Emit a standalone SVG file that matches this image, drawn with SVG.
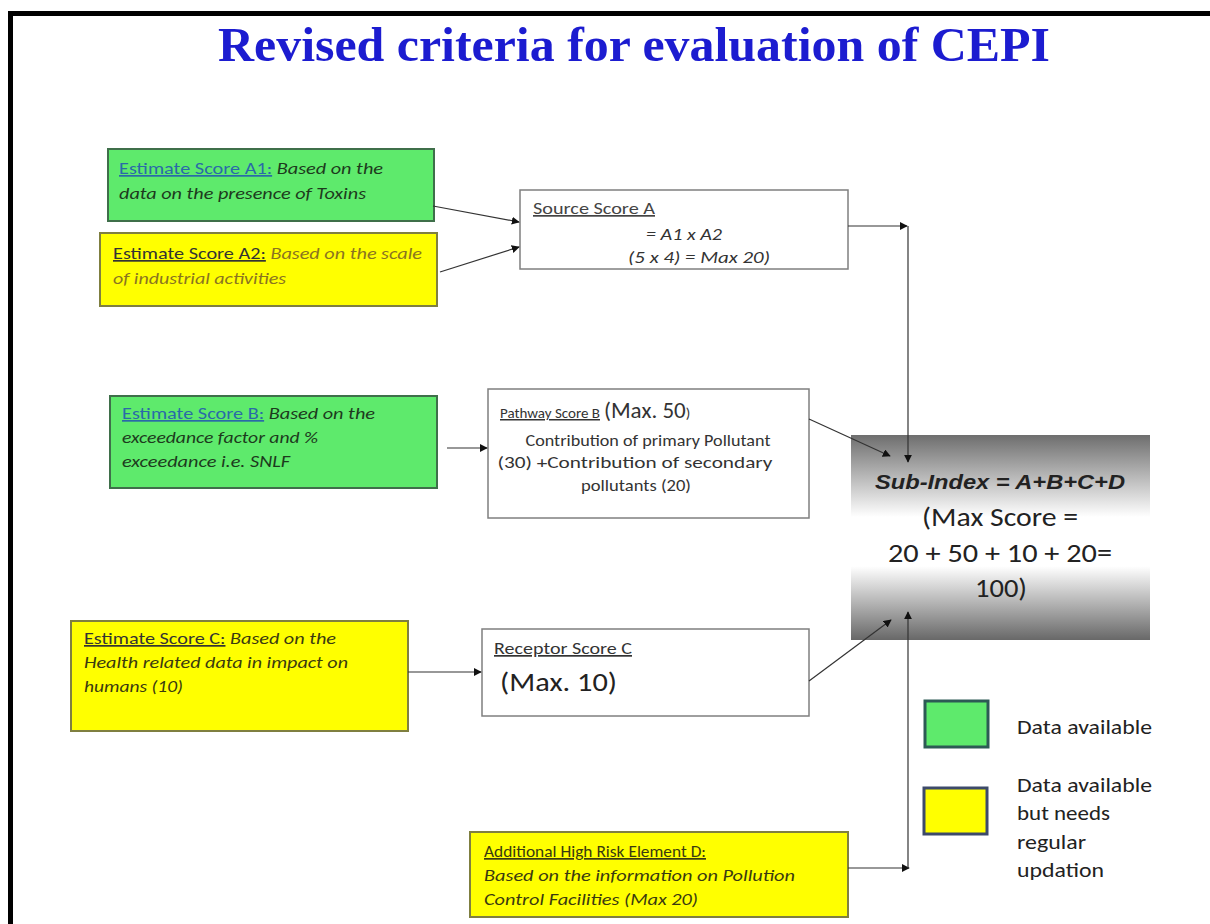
<svg xmlns="http://www.w3.org/2000/svg" width="1210" height="924" viewBox="0 0 1210 924">
<style>
.t{font-family:Carlito,"Liberation Sans",Arial,sans-serif;font-size:17px;fill:#222}
.i{font-style:italic}
.u{text-decoration:underline}
.g{fill:#5eea6c;stroke:#3f6f4a;stroke-width:2}
.y{fill:#ffff00;stroke:#7f7f40;stroke-width:2}
.w{fill:#ffffff;stroke:#7f7f7f;stroke-width:1.5}
.c{fill:none;stroke:#333;stroke-width:1.2}
.lg{font-family:Carlito,"Liberation Sans",Arial,sans-serif;font-size:21px;fill:#222}
.big{font-family:Carlito,"Liberation Sans",Arial,sans-serif;font-size:26px;fill:#222}
</style>
<defs>
<marker id="ah" viewBox="0 0 10 10" refX="9" refY="5" markerWidth="8" markerHeight="8" orient="auto" markerUnits="userSpaceOnUse">
<path d="M0,0 L10,5 L0,10 z" fill="#111"/>
</marker>
<linearGradient id="sg" x1="0" y1="0" x2="0" y2="1">
<stop offset="0" stop-color="#6e6e6e"/>
<stop offset="0.4" stop-color="#ffffff"/>
<stop offset="0.64" stop-color="#ffffff"/>
<stop offset="1" stop-color="#686868"/>
</linearGradient>
</defs>
<rect width="1210" height="924" fill="#ffffff"/>
<path d="M10.5,924 V13.5 H1210" fill="none" stroke="#000" stroke-width="5"/>
<text x="634" y="61" text-anchor="middle" font-family="'Liberation Serif','Times New Roman',serif" font-weight="bold" font-size="48" fill="#1c1cd0" textLength="832" lengthAdjust="spacingAndGlyphs">Revised criteria for evaluation of CEPI</text>

<g id="a1">
<rect class="g" x="108" y="149" width="326" height="72"/>
<text class="t" x="119" y="174" textLength="264" lengthAdjust="spacingAndGlyphs"><tspan class="u" fill="#2a6aa8">Estimate Score A1:</tspan><tspan class="i" fill="#1d3a1d"> Based on the</tspan></text>
<text class="t i" x="119" y="199" style="fill:#1d3a1d" textLength="247" lengthAdjust="spacingAndGlyphs">data on the presence of Toxins</text>
</g>

<g id="a2">
<rect class="y" x="100" y="233" width="337" height="73"/>
<text class="t" x="113" y="259" textLength="309" lengthAdjust="spacingAndGlyphs"><tspan class="u" fill="#333">Estimate Score A2:</tspan><tspan class="i" fill="#8a7420"> Based on the scale</tspan></text>
<text class="t i" x="113" y="284" style="fill:#8a7420" textLength="173" lengthAdjust="spacingAndGlyphs">of industrial activities</text>
</g>

<g id="sourceA">
<rect class="w" x="520" y="190" width="328" height="79"/>
<text class="t u" x="533" y="214" style="fill:#444" textLength="122" lengthAdjust="spacingAndGlyphs">Source Score A</text>
<text class="t i" x="684" y="240" text-anchor="middle" style="fill:#333" textLength="76" lengthAdjust="spacingAndGlyphs">= A1 x A2</text>
<text class="t i" x="699" y="263" text-anchor="middle" style="fill:#333" textLength="142" lengthAdjust="spacingAndGlyphs">(5 x 4) = Max 20)</text>
</g>

<g id="b">
<rect class="g" x="110" y="396" width="327" height="92"/>
<text class="t" x="122" y="419" textLength="253" lengthAdjust="spacingAndGlyphs"><tspan class="u" fill="#2a6aa8">Estimate Score B:</tspan><tspan class="i" fill="#1d3a1d"> Based on the</tspan></text>
<text class="t i" x="122" y="443" style="fill:#1d3a1d" textLength="196" lengthAdjust="spacingAndGlyphs">exceedance factor and %</text>
<text class="t i" x="122" y="467" style="fill:#1d3a1d" textLength="168" lengthAdjust="spacingAndGlyphs">exceedance i.e. SNLF</text>
</g>

<g id="pathwayB">
<rect class="w" x="488" y="389" width="321" height="129"/>
<text class="t" x="500" y="418" style="fill:#333"><tspan class="u" font-size="15">Pathway Score B</tspan><tspan font-size="23" dx="4">(Max. 50</tspan><tspan font-size="15">)</tspan></text>
<text class="t" x="648" y="446" text-anchor="middle" style="fill:#333" textLength="245" lengthAdjust="spacingAndGlyphs">Contribution of primary  Pollutant</text>
<text class="t" x="635" y="468" text-anchor="middle" style="fill:#333" textLength="275" lengthAdjust="spacingAndGlyphs">(30) +Contribution of secondary</text>
<text class="t" x="636" y="491" text-anchor="middle" style="fill:#333" textLength="110" lengthAdjust="spacingAndGlyphs">pollutants (20)</text>
</g>

<g id="subindex">
<rect x="851" y="435" width="299" height="205" fill="url(#sg)"/>
<text x="1000" y="489" text-anchor="middle" font-family="'Liberation Sans',Arial,sans-serif" font-weight="bold" font-style="italic" font-size="21" fill="#222" textLength="250" lengthAdjust="spacingAndGlyphs">Sub-Index = A+B+C+D</text>
<text class="big" x="1000" y="526" text-anchor="middle" textLength="156" lengthAdjust="spacingAndGlyphs">(Max Score =</text>
<text class="big" x="1000" y="562" text-anchor="middle" textLength="224" lengthAdjust="spacingAndGlyphs">20 + 50 + 10 + 20=</text>
<text class="big" x="1001" y="597" text-anchor="middle" textLength="52" lengthAdjust="spacingAndGlyphs">100)</text>
</g>

<g id="c">
<rect class="y" x="71" y="621" width="337" height="110"/>
<text class="t" x="84" y="644" textLength="252" lengthAdjust="spacingAndGlyphs"><tspan class="u" fill="#333">Estimate Score C:</tspan><tspan class="i" fill="#3a3a10"> Based on the</tspan></text>
<text class="t i" x="84" y="668" style="fill:#3a3a10" textLength="264" lengthAdjust="spacingAndGlyphs">Health related data in impact on</text>
<text class="t i" x="84" y="692" style="fill:#3a3a10" textLength="99" lengthAdjust="spacingAndGlyphs">humans (10)</text>
</g>

<g id="receptorC">
<rect class="w" x="482" y="629" width="327" height="87"/>
<text class="t u" x="494" y="654" style="fill:#333" font-size="15" textLength="138" lengthAdjust="spacingAndGlyphs">Receptor Score C</text>
<text class="big" x="500" y="691" textLength="117" lengthAdjust="spacingAndGlyphs">(Max. 10)</text>
</g>

<g id="d">
<rect class="y" x="470" y="832" width="378" height="85"/>
<text class="t u" x="484" y="857" style="fill:#3a3a10" textLength="222" lengthAdjust="spacingAndGlyphs">Additional High Risk Element D:</text>
<text class="t i" x="484" y="881" style="fill:#3a3a10" textLength="311" lengthAdjust="spacingAndGlyphs">Based on the information on Pollution</text>
<text class="t i" x="484" y="905" style="fill:#3a3a10" textLength="214" lengthAdjust="spacingAndGlyphs">Control Facilities (Max 20)</text>
</g>

<g id="legend">
<rect x="925" y="701" width="63" height="46" fill="#5eea6c" stroke="#2d5a55" stroke-width="3"/>
<text class="lg" x="1017" y="734" textLength="135" lengthAdjust="spacingAndGlyphs">Data available</text>
<rect x="924" y="788" width="63" height="46" fill="#ffff00" stroke="#3d4a6a" stroke-width="3"/>
<text class="lg" x="1017" y="792" textLength="135" lengthAdjust="spacingAndGlyphs">Data available</text>
<text class="lg" x="1017" y="820" textLength="93" lengthAdjust="spacingAndGlyphs">but needs</text>
<text class="lg" x="1017" y="849" textLength="69" lengthAdjust="spacingAndGlyphs">regular</text>
<text class="lg" x="1017" y="877" textLength="87" lengthAdjust="spacingAndGlyphs">updation</text>
</g>

<g id="connectors">
<line class="c" x1="433" y1="206" x2="519" y2="222" marker-end="url(#ah)"/>
<line class="c" x1="440" y1="272" x2="519" y2="247" marker-end="url(#ah)"/>
<line class="c" x1="848" y1="226" x2="907" y2="226" marker-end="url(#ah)"/>
<line class="c" x1="908" y1="226" x2="908" y2="462" marker-end="url(#ah)"/>
<line class="c" x1="447" y1="448" x2="487" y2="448" marker-end="url(#ah)"/>
<line class="c" x1="809" y1="419" x2="890" y2="456" marker-end="url(#ah)"/>
<line class="c" x1="408" y1="672" x2="481" y2="672" marker-end="url(#ah)"/>
<line class="c" x1="809" y1="681" x2="891" y2="620" marker-end="url(#ah)"/>
<line class="c" x1="848" y1="868" x2="909" y2="868" marker-end="url(#ah)"/>
<line class="c" x1="908" y1="868" x2="908" y2="612" marker-end="url(#ah)"/>
</g>
</svg>
